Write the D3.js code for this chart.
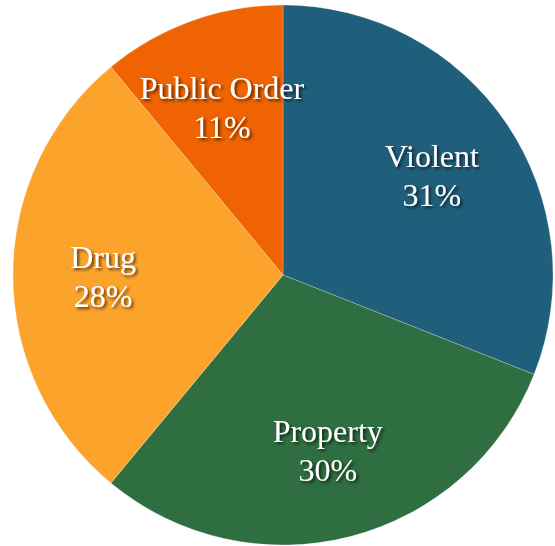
<!DOCTYPE html>
<html>
<head>
<meta charset="utf-8">
<script src="https://cdn.jsdelivr.net/npm/d3@7"></script>
<style>
  html, body { margin: 0; padding: 0; background: #fff; }
  svg { display: block; }
</style>
</head>
<body>
<svg id="chart" width="555" height="546"></svg>
<script>
var categories = ["Violent", "Property", "Drug", "Public Order"];
var shares = [31, 30, 28, 11];
var colors = ["#205f7b", "#2e6e40", "#fca32c", "#ef6302"];

var svg = d3.select("#chart");
var cx = 283, cy = 275, radius = 270;

var defs = svg.append("defs");
var filter = defs.append("filter")
    .attr("id", "shadow")
    .attr("x", "-20%").attr("y", "-20%")
    .attr("width", "140%").attr("height", "140%");
filter.append("feDropShadow")
    .attr("dx", 2)
    .attr("dy", 2)
    .attr("stdDeviation", 1.4)
    .attr("flood-color", "#000")
    .attr("flood-opacity", 0.65);

var data = categories.map(function (c, i) {
    return { name: c, value: shares[i], color: colors[i] };
});

var pie = d3.pie()
    .sort(null)
    .value(function (d) { return d.value; });

var arc = d3.arc()
    .innerRadius(0)
    .outerRadius(radius);

var labelArc = d3.arc()
    .innerRadius(radius * 2 / 3)
    .outerRadius(radius * 2 / 3);

var g = svg.append("g")
    .attr("transform", "translate(" + cx + "," + cy + ")");

var arcs = pie(data);

g.selectAll(".slice")
    .data(arcs)
    .enter().append("path")
    .attr("class", "slice")
    .attr("d", arc)
    .attr("fill", function (d) { return d.data.color; })
    .attr("stroke", "#ffffff")
    .attr("stroke-opacity", 0.4)
    .attr("stroke-width", 0.6);

var labels = g.selectAll(".label")
    .data(arcs)
    .enter().append("text")
    .attr("class", "label")
    .attr("transform", function (d) {
        var c = labelArc.centroid(d);
        return "translate(" + c[0] + "," + c[1] + ")";
    })
    .attr("text-anchor", "middle")
    .attr("fill", "#ffffff")
    .attr("filter", "url(#shadow)")
    .style("font-family", "'Liberation Serif', 'Times New Roman', serif")
    .style("font-size", "32px");

labels.append("tspan")
    .attr("x", 0)
    .attr("y", -7)
    .text(function (d) { return d.data.name; });

labels.append("tspan")
    .attr("x", 0)
    .attr("y", 32)
    .text(function (d) { return d.data.value + "%"; });
</script>
</body>
</html>
